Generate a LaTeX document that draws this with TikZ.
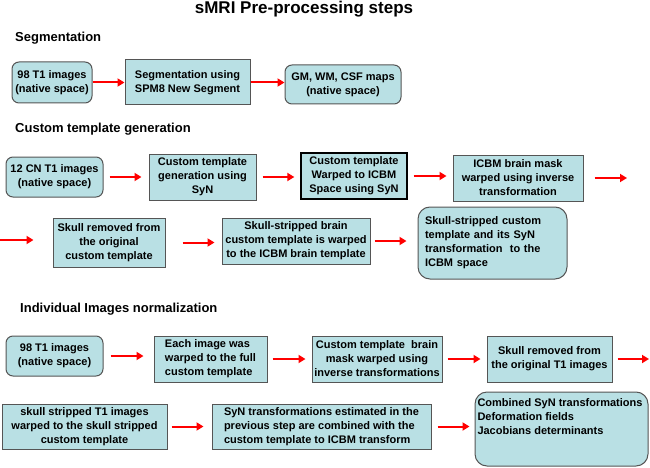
\documentclass[tikz,border=0pt]{standalone}
\usepackage{fontspec}
\setmainfont{Liberation Sans}
\usetikzlibrary{arrows.meta}
\definecolor{boxfill}{RGB}{185,224,228}
\definecolor{boxline}{RGB}{85,85,85}

\begin{document}
\begin{tikzpicture}[x=1pt,y=1pt,yscale=-1,
  box/.style={draw=boxline,line width=1pt,fill=boxfill,align=center,inner xsep=1pt,inner ysep=2pt,font=\fontsize{11}{14}\selectfont\bfseries},
  rbox/.style={box,rounded corners=7pt},
  flow/.style={draw=red,line width=2pt,-{Triangle[length=7pt,width=8pt]}},
  heading/.style={anchor=base west,inner sep=0pt,font=\fontsize{13}{15}\selectfont\bfseries}]
\useasboundingbox (0,0) rectangle (650,468);

% Text Node
\node[anchor=base,inner sep=0pt,font=\fontsize{17}{20}\selectfont\bfseries] (title) at (304,14) {sMRI Pre-processing steps};

%Segmentation
\node[heading] (hseg) at (15,42) {Segmentation};
\node[rbox,minimum width=80pt,minimum height=41pt] (a1) at (52,82.5) {98 T1 images\\(native space)};
\node[box,minimum width=125pt,minimum height=45pt] (a2) at (187.5,82.5) {Segmentation using\\SPM8 New Segment};
\node[rbox,minimum width=116pt,minimum height=39pt] (a3) at (343,84.5) {GM, WM, CSF maps\\(native space)};

%Custom template generation
\node[heading] (hcus) at (15,132) {Custom template generation};
\node[rbox,minimum width=97pt,minimum height=40pt] (b1) at (54.5,177) {12 CN T1 images\\(native space)};
\node[box,minimum width=107pt,minimum height=46pt] (b2) at (202.5,177) {Custom template\\generation using\\SyN};
\node[box,draw=black,line width=1.3pt,minimum width=106pt,minimum height=46pt] (b3) at (354,176) {Custom template\\Warped to ICBM\\Space using SyN};
\node[box,minimum width=130pt,minimum height=46pt] (b4) at (518,178) {ICBM brain mask\\warped using inverse\\transformation};
\coordinate (bout) at (627,178);
\coordinate (cin) at (0,240);
\node[box,minimum width=112pt,minimum height=49pt] (c1) at (109,242.5) {Skull removed from\\the original\\custom template};
\node[box,minimum width=148pt,minimum height=46pt] (c2) at (296,241) {Skull-stripped brain\\custom template is warped\\to the ICBM brain template};
\node[rbox,rounded corners=12pt,align=left,text width=135pt,minimum width=149pt,minimum height=72pt] (c3) at (492.5,243) {Skull-stripped custom\\template and its SyN\\transformation~ to the\\ICBM space};

%Individual Images normalization
\node[heading] (hind) at (20,312) {Individual Images normalization};
\node[rbox,minimum width=97pt,minimum height=40pt] (d1) at (54.5,356) {98 T1 images\\(native space)};
\node[box,align=left,minimum width=113pt,minimum height=46pt] (d2) at (210.5,359) {Each image was\\warped to the full\\custom template};
\node[box,minimum width=130pt,minimum height=46pt] (d3) at (377,359) {Custom template~ brain\\mask warped using\\inverse transformations};
\node[box,minimum width=125pt,minimum height=46pt] (d4) at (549.5,359) {Skull removed from\\the original T1 images};
\coordinate (dout) at (649,359);
\node[box,minimum width=165pt,minimum height=45pt] (e1) at (84.5,426.5) {skull stripped T1 images\\warped to the skull stripped\\custom template};
\node[box,align=left,minimum width=219pt,minimum height=45pt] (e2) at (321.5,426.5) {SyN transformations estimated in the\\previous step are combined with the\\custom template to ICBM transform};
\node[rbox,rounded corners=12pt,inner xsep=2pt,minimum width=173pt,minimum height=74pt] (e3) at (561.5,429) {\begin{minipage}[c][60pt][t]{168pt}Combined SyN transformations\\Deformation fields\\Jacobians determinants\end{minipage}};

%Straight Lines
\draw[flow] (a1) -- (a2);
\draw[flow] (a2.east) -- (a2.east -| a3.west);
\draw[flow,shorten <=6pt,shorten >=7pt] (b1.east) -- (b1.east -| b2.west);
\draw[flow,shorten <=6pt,shorten >=6pt] (b2.east) -- (b2.east -| b3.west);
\draw[flow,shorten <=6pt,shorten >=6pt] (b3.east) -- (b3.east -| b4.west);
\draw[flow,shorten <=11pt] (b4.east) -- (bout);
\draw[flow,shorten >=19pt] (cin) -- (cin -| c1.west);
\draw[flow,shorten <=17pt,shorten >=7pt] (c1.east) -- (c1.east -| c2.west);
\draw[flow,shorten <=4pt,shorten >=11pt] (c2.east) -- (c2.east -| c3.west);
\draw[flow,shorten <=7pt,shorten >=10pt] (d1.east) -- (d1.east -| d2.west);
\draw[flow,shorten <=5pt,shorten >=6pt] (d2.east) -- (d2.east -| d3.west);
\draw[flow,shorten <=5pt,shorten >=6pt] (d3.east) -- (d3.east -| d4.west);
\draw[flow,shorten <=5pt] (d4.east) -- (dout);
\draw[flow,shorten <=4pt,shorten >=8pt] (e1.east) -- (e1.east -| e2.west);
\draw[flow,shorten <=6pt,shorten >=5pt] (e2.east) -- (e2.east -| e3.west);
\end{tikzpicture}
\end{document}
